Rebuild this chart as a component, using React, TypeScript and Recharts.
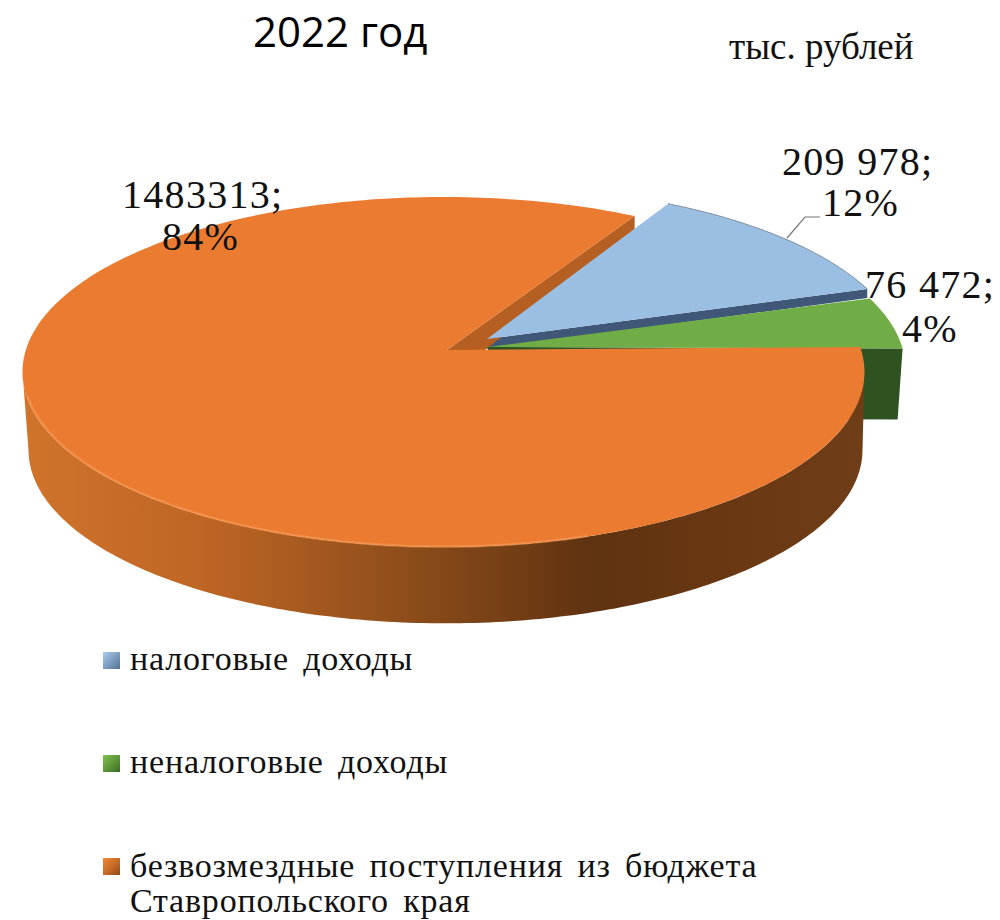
import { PieChart, Pie, Legend } from "recharts";

const categories = [
  "налоговые доходы",
  "неналоговые доходы",
  "безвозмездные поступления из бюджета Ставропольского края",
];
const values = [209978, 76472, 1483313];
const valueLabels = ["209 978;", "76 472;", "1483313;"];
const percentLabels = ["12%", "4%", "84%"];
const colors = ["#9BBFE3", "#70AD47", "#EB7B30"];

const tableData = categories.map((name, i) => ({ name, value: values[i], fill: colors[i] }));

// flattening of the disc, the apex sits above the ellipse centre because of perspective
const RATIO = 175 / 421;
const CENTER_DX = -3.5;
const CENTER_DY = 22;

const sliceGeo = [
  { dx: 40, dy: -11, nudge: [-1, 2] },
  { dx: 41, dy: -3, nudge: [1.5, 0] },
  { dx: 0, dy: 0, nudge: [1.5, -2] },
];

const labelPos = [
  { x: 782, y1: 175, x2: 822, y2: 216 },
  { x: 865, y1: 298, x2: 902, y2: 342 },
  { x: 122, y1: 208, x2: 162, y2: 250 },
];

const legendMarks = [
  "linear-gradient(135deg, #a9cdf0 0%, #7f9fc2 50%, #54708f 100%)",
  "linear-gradient(135deg, #7fc04f 0%, #5f9a3a 50%, #3c6a26 100%)",
  "linear-gradient(135deg, #f08a3c 0%, #c96d28 50%, #8e4a17 100%)",
];
const legendTops = [650, 753, 856];
const legendTextTops = [641, 744, 848];

const onEllipse = (cx: number, cy: number, r: number, a: number) => {
  const rad = (a * Math.PI) / 180;
  return [cx + CENTER_DX + r * Math.cos(rad), cy + CENTER_DY - r * RATIO * Math.sin(rad)];
};

const arcPoints = (cx: number, cy: number, r: number, from: number, to: number) => {
  const steps = Math.max(2, Math.ceil(Math.abs(to - from)));
  const pts: string[] = [];
  for (let i = 0; i <= steps; i++) {
    const p = onEllipse(cx, cy, r, from + ((to - from) * i) / steps);
    pts.push(`${p[0].toFixed(1)} ${p[1].toFixed(1)}`);
  }
  return pts;
};

const TopShape = (props: any) => {
  const { cx, cy, outerRadius, startAngle, endAngle, index, fill } = props;
  const g = sliceGeo[index];
  const ax = cx + g.dx;
  const ay = cy + g.dy;
  const arc = arcPoints(ax, ay, outerRadius, startAngle + g.nudge[0], endAngle + g.nudge[1]);
  const d = `M${ax} ${ay} L${arc.join(" L")} Z`;
  return (
    <g>
      <path d={d} fill={fill} />
      {index === 0 && <path d={`M${arc.join(" L")}`} fill="none" stroke="#7f8f9f" strokeWidth={1} />}
      {index === 2 && (
        <path
          d={`M${arcPoints(ax, ay, outerRadius - 1, -172, -70).join(" L")}`}
          fill="none"
          stroke="#F59A55"
          strokeWidth={2.5}
          strokeOpacity={0.6}
        />
      )}
    </g>
  );
};

const WallShape = (props: any) => {
  const { cx, cy, outerRadius, endAngle, index } = props;
  const g = sliceGeo[index];
  const ax = cx + g.dx;
  const ay = cy + g.dy;
  if (index === 0) {
    const p = onEllipse(ax, ay, outerRadius, endAngle + g.nudge[1]);
    return <path d={`M${ax} ${ay} L${p[0]} ${p[1]} L${p[0]} ${p[1] + 9} L${ax} ${ay + 10} Z`} fill="#3F5878" />;
  }
  if (index === 1) {
    const p = onEllipse(ax, ay, outerRadius, endAngle);
    return <path d={`M${ax} ${ay} L${p[0]} ${p[1]} L${p[0] - 5} ${p[1] + 71} L${ax} ${ay + 71} Z`} fill="#2F5320" />;
  }
  const corner = onEllipse(ax, ay, outerRadius, endAngle + g.nudge[1]);
  const top = arcPoints(ax, ay, outerRadius, -180, 0);
  const bottom = arcPoints(ax + 2, ay + 78, outerRadius - 4, 0, -180);
  return (
    <g>
      <defs>
        <linearGradient id="orangeWall" x1="0" y1="0" x2="1" y2="0">
          <stop offset="0%" stopColor="#D0742B" />
          <stop offset="22%" stopColor="#BE6525" />
          <stop offset="45%" stopColor="#8F4E1B" />
          <stop offset="68%" stopColor="#5F3210" />
          <stop offset="85%" stopColor="#6A3913" />
          <stop offset="100%" stopColor="#6F3D16" />
        </linearGradient>
      </defs>
      <path
        d={`M${ax} ${ay} L${corner[0]} ${corner[1]} L${corner[0]} ${corner[1] + 15} L${ax + 38} ${ay} Z`}
        fill="#B65F22"
      />
      <path d={`M${top.join(" L")} L${bottom.join(" L")} Z`} fill="url(#orangeWall)" />
    </g>
  );
};

const renderLabel = (props: any) => {
  const pos = labelPos[props.index];
  const textStyle = { fontFamily: "Liberation Serif", fontSize: 40, letterSpacing: 1.3, fill: "#111" };
  return (
    <g>
      {props.index === 0 && <path d="M787 238 L805 217 L820 217" fill="none" stroke="#777" strokeWidth={1.2} />}
      <text x={pos.x} y={pos.y1} style={textStyle}>
        {valueLabels[props.index]}
      </text>
      <text x={pos.x2} y={pos.y2} style={textStyle}>
        {percentLabels[props.index]}
      </text>
    </g>
  );
};

const renderLegend = (props: any) => {
  // both Pie layers report their items, the first one of each name is enough
  const payload = props.payload || [];
  const names = categories.filter((name) => payload.some((p: any) => p.value === name));
  return (
    <div>
      {names.map((name) => {
        const i = categories.indexOf(name);
        return (
          <div key={name}>
            <div
              style={{
                position: "absolute",
                left: 103,
                top: legendTops[i] + 2,
                width: 17,
                height: 17,
                background: legendMarks[i],
              }}
            />
            <div
              style={{
                position: "absolute",
                left: 130,
                top: legendTextTops[i],
                width: 650,
                fontFamily: "Liberation Serif",
                fontSize: 34,
                lineHeight: "35px",
                letterSpacing: 0.8,
                wordSpacing: 5,
                color: "#111",
              }}
            >
              {name}
            </div>
          </div>
        );
      })}
    </div>
  );
};

export default function App() {
  return (
    <div style={{ position: "absolute", left: 0, top: 0, width: 1000, height: 920, background: "#fff" }}>
      <div
        style={{
          position: "absolute",
          left: 253,
          top: 2,
          fontFamily: "Open Sans",
          fontSize: 42,
          color: "#000",
          zIndex: 2,
        }}
      >
        2022 год
      </div>
      <div
        style={{
          position: "absolute",
          left: 729,
          top: 25,
          fontFamily: "Liberation Serif",
          fontSize: 37,
          color: "#111",
          zIndex: 2,
        }}
      >
        тыс. рублей
      </div>
      <PieChart width={1000} height={920} margin={{ top: 0, right: 0, bottom: 0, left: 0 }}>
        <Pie
          data={tableData}
          dataKey="value"
          nameKey="name"
          cx={447}
          cy={350}
          outerRadius={421}
          startAngle={65}
          endAngle={-295}
          stroke="none"
          legendType="none"
          shape={WallShape}
          isAnimationActive={false}
        />
        <Pie
          data={tableData}
          dataKey="value"
          nameKey="name"
          cx={447}
          cy={350}
          outerRadius={421}
          startAngle={65}
          endAngle={-295}
          stroke="none"
          shape={TopShape}
          label={renderLabel}
          labelLine={false}
          isAnimationActive={false}
        />
        <Legend content={renderLegend} wrapperStyle={{ position: "absolute", left: 0, top: 0, width: 1000, height: 0 }} />
      </PieChart>
    </div>
  );
}
